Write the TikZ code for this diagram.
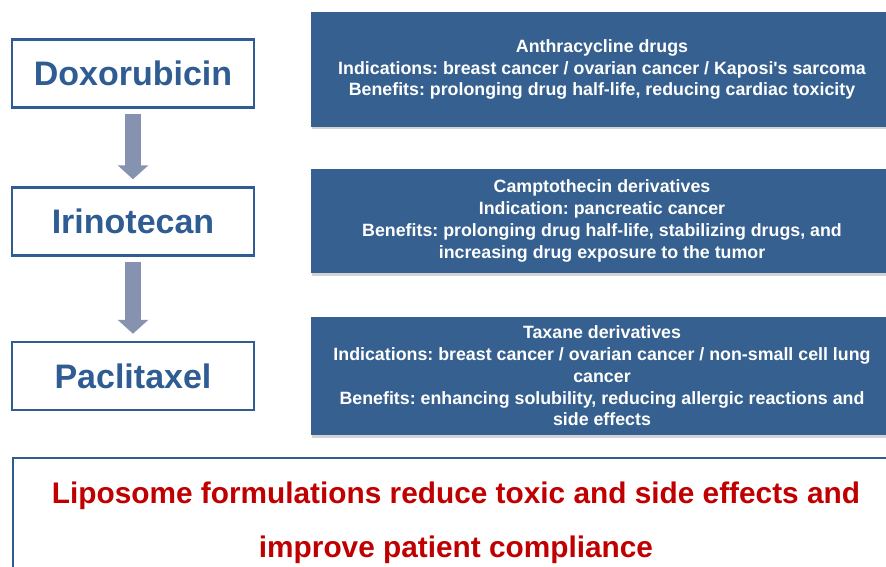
\documentclass[tikz,border=0pt]{standalone}
\usepackage{fontspec}
\setmainfont{Liberation Sans}[Ligatures=TeXOff]
\usetikzlibrary{arrows.meta,shadows,positioning}
\definecolor{drugblue}{HTML}{2F5D93}
\definecolor{boxblue}{HTML}{35608F}
\definecolor{arrowgray}{HTML}{8592B0}
\definecolor{noteRed}{HTML}{C00000}
\frenchspacing
\tikzset{
	drugbox/.style={draw=drugblue,line width=2.5pt,fill=white,minimum width=242pt,minimum height=68pt,text=drugblue,font=\bfseries\fontsize{34}{40}\selectfont},
	infobox/.style={fill=boxblue,text=white,align=center,minimum width=582pt,font=\bfseries\fontsize{17.8}{21.8}\selectfont,drop shadow={opacity=0.35,shadow xshift=1pt,shadow yshift=-2.5pt}},
	downarrow/.style={draw=arrowgray,line width=16pt,-{Triangle[width=30pt,length=14pt]}}
}

\begin{document}
\begin{tikzpicture}[x=1pt,y=-1pt]
		\useasboundingbox (0,0) rectangle (886,567);
		% drugs
		\node[drugbox] (dox) at (133,73.5) {Doxorubicin};
		\node[drugbox] (iri) at (133,221.5) {Irinotecan};
		\node[drugbox] (pac) at (133,376) {Paclitaxel};
		\foreach \a/\b in {dox/iri,iri/pac}{\draw[downarrow,shorten <=5pt,shorten >=7pt] (\a.south) -- (\b.north);}
		% notes
		\node[infobox,minimum height=115pt] (doxinfo) at (602,69.5) {Anthracycline drugs\\Indications: breast cancer / ovarian cancer / Kaposi's sarcoma\\Benefits: prolonging drug half-life, reducing cardiac toxicity};
		\node[infobox,minimum height=104pt] (iriinfo) at (602,221) {Camptothecin derivatives\\Indication: pancreatic cancer\\Benefits: prolonging drug half-life, stabilizing drugs, and\\increasing drug exposure to the tumor};
		\node[infobox,minimum height=118pt] (pacinfo) at (602,376) {Taxane derivatives\\Indications: breast cancer / ovarian cancer / non-small cell lung\\cancer\\Benefits: enhancing solubility, reducing allergic reactions and\\side effects};
		% summary
		\node[draw=drugblue,line width=2pt,anchor=north west,minimum width=886pt,minimum height=130pt,align=center,text=noteRed,font=\bfseries\fontsize{29.8}{54}\selectfont] (summary) at (12,457) {Liposome formulations reduce toxic and side effects and\\improve patient compliance};
\end{tikzpicture}
\end{document}
